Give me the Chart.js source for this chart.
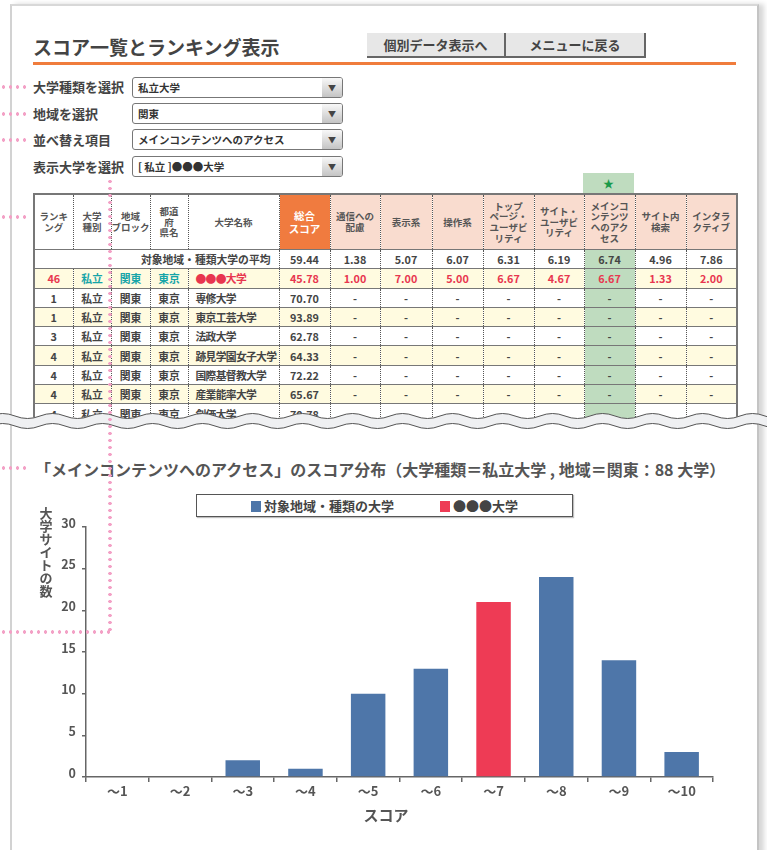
<!DOCTYPE html>
<html lang="ja">
<head>
<meta charset="utf-8">
<title>スコア一覧とランキング表示</title>
<script src="https://cdn.jsdelivr.net/npm/chart.js@4.4.1/dist/chart.umd.min.js"></script>
<style>
body { margin:0; width:767px; height:850px; position:relative; overflow:hidden; background:#fff;
  font-family:"Noto Sans CJK JP", sans-serif; color:#444; }
.abs { position:absolute; }
.frame { left:10px; top:4px; width:745px; height:900px; border-left:2px solid #d2d2d2; border-top:2px solid #d8d8d8;
  border-right:2px solid #c4c4c4; box-shadow:5px 0 5px rgba(0,0,0,0.16); }
.title { left:33px; top:33px; font-size:19px; font-weight:bold; line-height:28px; color:#444; }
.rule { left:33px; top:62px; width:703px; height:3px; background:#f07c3c; }
.btn { top:33px; height:23px; background:#e7e7e7; border-right:2px solid #666; border-bottom:2px solid #666;
  font-size:13px; font-weight:bold; text-align:center; line-height:23px; color:#444; }
.lbl { left:33px; font-size:13px; font-weight:bold; line-height:20px; color:#444; }
.sel { left:132px; width:209px; height:19px; border:1px solid #777; border-radius:3px; background:#fff;
  font-size:10.5px; font-weight:bold; line-height:19px; color:#333; }
.sel span { position:absolute; left:5px; top:0; }
.sel i { position:absolute; right:0; top:0; width:20px; height:19px; font-style:normal; text-align:center;
  font-size:8px; line-height:19px; color:#444; background:linear-gradient(#f8f8f8,#c4c4c4); border-radius:0 2px 2px 0; }
.dotsH { height:4px; background-image:radial-gradient(circle, #f3a1c6 1.6px, transparent 1.9px);
  background-size:7px 4px; z-index:20; }
.dotsV { width:4px; background-image:radial-gradient(circle, #f3a1c6 1.6px, transparent 1.9px);
  background-size:4px 7px; z-index:20; }
.tblwrap { left:33px; top:170px; width:720px; height:251px; overflow:hidden; }
.star { left:550px; top:3px; width:51px; height:20px; background:#bfdcbf; color:#1a9a4a; text-align:center;
  font-size:11px; line-height:20px; }
table { position:absolute; left:0; top:23px; border-collapse:collapse; table-layout:fixed; width:703px;
  border:2px solid #777; }
td, th { border-left:1px dotted #555; border-top:1px solid #777; padding:0; text-align:center;
  font-size:10.8px; font-weight:bold; color:#444; white-space:nowrap; overflow:hidden; }
th { height:54px; font-size:9.5px; line-height:10.6px; color:#555; border-bottom:1px solid #777; }
th.sum { background:#f07b3f; color:#fff; font-size:10.5px; line-height:13px; }
th.sub { background:#f9dccf; }
td { height:18.3px; line-height:18px; }
td.name { text-align:left; padding-left:7px; letter-spacing:-0.7px; }
td.avgLabel { text-align:right; padding-right:8px; border-left:none; }
tr.cream td { background:#fffbe0; }
td.hl, tr.cream td.hl { background:#bfdcbf; }
tr.me td { color:#e8364f; }
tr.me td.teal { color:#17a5a8; }
.chartTitle { left:35px; top:457px; font-size:16px; font-weight:bold; line-height:24px; color:#555; white-space:nowrap; }
.legend { left:196px; top:494px; width:375px; height:21px; border:1px solid #555; box-shadow:1px 1px 1px rgba(0,0,0,.25);
  font-size:13px; font-weight:bold; line-height:21px; color:#444; background:#fff; }
.legend .it { position:absolute; top:0; }
.legend b { display:inline-block; width:10px; height:11px; margin-right:3px; vertical-align:-1px; }
#chart { position:absolute; left:0; top:500px; }
svg.cut { position:absolute; left:0; top:400px; z-index:10; }
</style>
</head>
<body>
<div class="abs frame"></div>
<div class="abs title">スコア一覧とランキング表示</div>
<div class="abs btn" style="left:367px;width:137px;">個別データ表示へ</div>
<div class="abs btn" style="left:506px;width:138px;">メニューに戻る</div>
<div class="abs rule"></div>

<div class="abs lbl" style="top:77px;">大学種類を選択</div>
<div class="abs lbl" style="top:104px;">地域を選択</div>
<div class="abs lbl" style="top:130px;">並べ替え項目</div>
<div class="abs lbl" style="top:157px;">表示大学を選択</div>
<div class="abs sel" style="top:77px;"><span>私立大学</span><i>▼</i></div>
<div class="abs sel" style="top:103px;"><span>関東</span><i>▼</i></div>
<div class="abs sel" style="top:129px;"><span>メインコンテンツへのアクセス</span><i>▼</i></div>
<div class="abs sel" style="top:156px;"><span>[ 私立 ]●●●大学</span><i>▼</i></div>

<div class="abs tblwrap" id="tblwrap">
  <div class="abs star">★</div>
  <table id="tbl"></table>
</div>

<svg class="cut" width="767" height="40" id="cut"></svg>

<div class="abs chartTitle">「メインコンテンツへのアクセス」のスコア分布（大学種類＝私立大学 , 地域＝関東：88 大学）</div>
<div class="abs legend" id="legend"></div>
<canvas id="chart" width="767" height="350"></canvas>

<div class="abs dotsH" style="left:0;top:85px;width:28px;"></div>
<div class="abs dotsH" style="left:0;top:112px;width:28px;"></div>
<div class="abs dotsH" style="left:0;top:138px;width:28px;"></div>
<div class="abs dotsH" style="left:0;top:215px;width:28px;"></div>
<div class="abs dotsH" style="left:0;top:466px;width:30px;"></div>
<div class="abs dotsV" style="left:108px;top:178px;height:456px;"></div>
<div class="abs dotsH" style="left:0;top:630px;width:112px;"></div>

<script>
// table
const headers = ['ランキ<br>ング', '大学<br>種別', '地域<br>ブロック', '都道<br>府<br>県名', '大学名称', '総合<br>スコア',
  '通信への<br>配慮', '表示系', '操作系', 'トップ<br>ページ・<br>ユーザビ<br>リティ', 'サイト・<br>ユーザビ<br>リティ',
  'メインコ<br>ンテンツ<br>へのアク<br>セス', 'サイト内<br>検索', 'インタラ<br>クティブ'];
const colWidths = [39, 38, 39, 38, 91, 51, 50, 52, 51, 51, 50, 51, 51, 51];
const avgLabel = '対象地域・種類大学の平均';
const avgScores = ['59.44', '1.38', '5.07', '6.07', '6.31', '6.19', '6.74', '4.96', '7.86'];
const ownRow = ['46', '私立', '関東', '東京', '●●●大学'];
const ownScores = ['45.78', '1.00', '7.00', '5.00', '6.67', '4.67', '6.67', '1.33', '2.00'];
const ranks = ['1', '1', '3', '4', '4', '4', '4'];
const names = ['専修大学', '東京工芸大学', '法政大学', '跡見学園女子大学', '国際基督教大学', '産業能率大学', '創価大学'];
const totals = ['70.70', '93.89', '62.78', '64.33', '72.22', '65.67', '70.78'];
const hlCol = 11;

// chart
const categories = ['～1', '～2', '～3', '～4', '～5', '～6', '～7', '～8', '～9', '～10'];
const groupCounts = [0, 0, 2, 1, 10, 13, null, 24, 14, 3];
const ownCounts = [null, null, null, null, null, null, 21, null, null, null];
const yTicks = [0, 5, 10, 15, 20, 25, 30];
const seriesNames = ['対象地域・種類の大学', '●●●大学'];
const xTitle = 'スコア';
const yTitle = '大学サイトの数';

const tbl = document.getElementById('tbl');
let html = '<colgroup>' + colWidths.map(w => `<col style="width:${w}px">`).join('') + '</colgroup>';
html += '<tr>' + headers.map((h, i) => {
  const cls = i === 5 ? 'sum' : (i > 5 ? 'sub' : '');
  return `<th class="${cls}"${i === 0 ? ' style="border-left:none"' : ''}>${h}</th>`;
}).join('') + '</tr>';
const scoreCells = vals => vals.map((v, j) => `<td class="${j + 5 === hlCol ? 'hl' : ''}">${v}</td>`).join('');
html += `<tr><td colspan="5" class="avgLabel">${avgLabel}</td>${scoreCells(avgScores)}</tr>`;
html += '<tr class="cream me">' + ownRow.map((v, i) =>
  `<td class="${i === 4 ? 'name' : (i > 0 ? 'teal' : '')}"${i === 0 ? ' style="border-left:none"' : ''}>${v}</td>`).join('') +
  scoreCells(ownScores) + '</tr>';
names.forEach((n, k) => {
  const dashes = Array(8).fill('-');
  html += `<tr class="${k % 2 ? 'cream' : ''}"><td style="border-left:none">${ranks[k]}</td><td>私立</td><td>関東</td><td>東京</td>` +
    `<td class="name">${n}</td>` + scoreCells([totals[k]].concat(dashes)) + '</tr>';
});
tbl.innerHTML = html;

// wavy cut across the table
(function () {
  const svg = document.getElementById('cut');
  const wave = y => { let d = `M-10,${y} q12.5,-5 25,0`; for (let i = 0; i < 33; i++) d += ' t25,0'; return d; };
  svg.innerHTML = `<path d="${wave(21)}" fill="none" stroke="#eff0f2" stroke-width="10"/>` +
    `<path d="${wave(16)}" fill="none" stroke="#555" stroke-width="1"/>` +
    `<path d="${wave(26)}" fill="none" stroke="#555" stroke-width="1"/>`;
})();

Chart.defaults.font.family = '"Noto Sans CJK JP", sans-serif';

const axisTitles = {
  id: 'axisTitles',
  afterDraw(chart) {
    const ctx = chart.ctx;
    ctx.save();
    ctx.fillStyle = '#555';
    ctx.textAlign = 'center';
    ctx.font = 'bold 13px "Noto Sans CJK JP"';
    ctx.textBaseline = 'top';
    [...yTitle].forEach((ch, i) => ctx.fillText(ch, 46, 7 + i * 13));
    ctx.font = 'bold 15px "Noto Sans CJK JP"';
    ctx.textBaseline = 'middle';
    ctx.fillText(xTitle, 386, 315);
    ctx.restore();
  }
};

const chart = new Chart('chart', {
  type: 'bar',
  data: {
    labels: categories,
    datasets: [
      { label: seriesNames[0], data: groupCounts, backgroundColor: '#4e76a9', barPercentage: 0.55, categoryPercentage: 1 },
      { label: seriesNames[1], data: ownCounts, backgroundColor: '#ee3b55', barPercentage: 0.55, categoryPercentage: 1 }
    ]
  },
  options: {
    responsive: false,
    animation: false,
    layout: { padding: { left: 0, right: 54, top: 27, bottom: 43 } },
    plugins: { legend: { display: false }, tooltip: { enabled: false } },
    scales: {
      x: {
        stacked: true,
        grid: { offset: true, drawOnChartArea: false, tickLength: 5, color: '#666', lineWidth: 1.5 },
        border: { color: '#666', width: 1.5 },
        ticks: { color: '#555', padding: 1, font: { size: 13, weight: 'bold' } },
        afterFit: s => { s.height = 30; }
      },
      y: {
        stacked: true,
        min: yTicks[0],
        max: yTicks[yTicks.length - 1],
        afterBuildTicks: s => { s.ticks = yTicks.map(v => ({ value: v })); },
        grid: { drawOnChartArea: false, tickLength: 4, color: '#666', lineWidth: 1.5 },
        border: { color: '#666', width: 1.5 },
        ticks: { color: '#555', padding: 6, labelOffset: -4, font: { size: 12.5, weight: 'bold' } },
        afterFit: s => { s.width = 86; }
      }
    }
  },
  plugins: [axisTitles]
});

// legend from the chart's datasets
const legend = document.getElementById('legend');
const legendX = [54, 243];
legend.innerHTML = chart.data.datasets.map((ds, i) =>
  `<span class="it" style="left:${legendX[i]}px"><b style="background:${ds.backgroundColor}"></b>${ds.label}</span>`).join('');
</script>
</body>
</html>
